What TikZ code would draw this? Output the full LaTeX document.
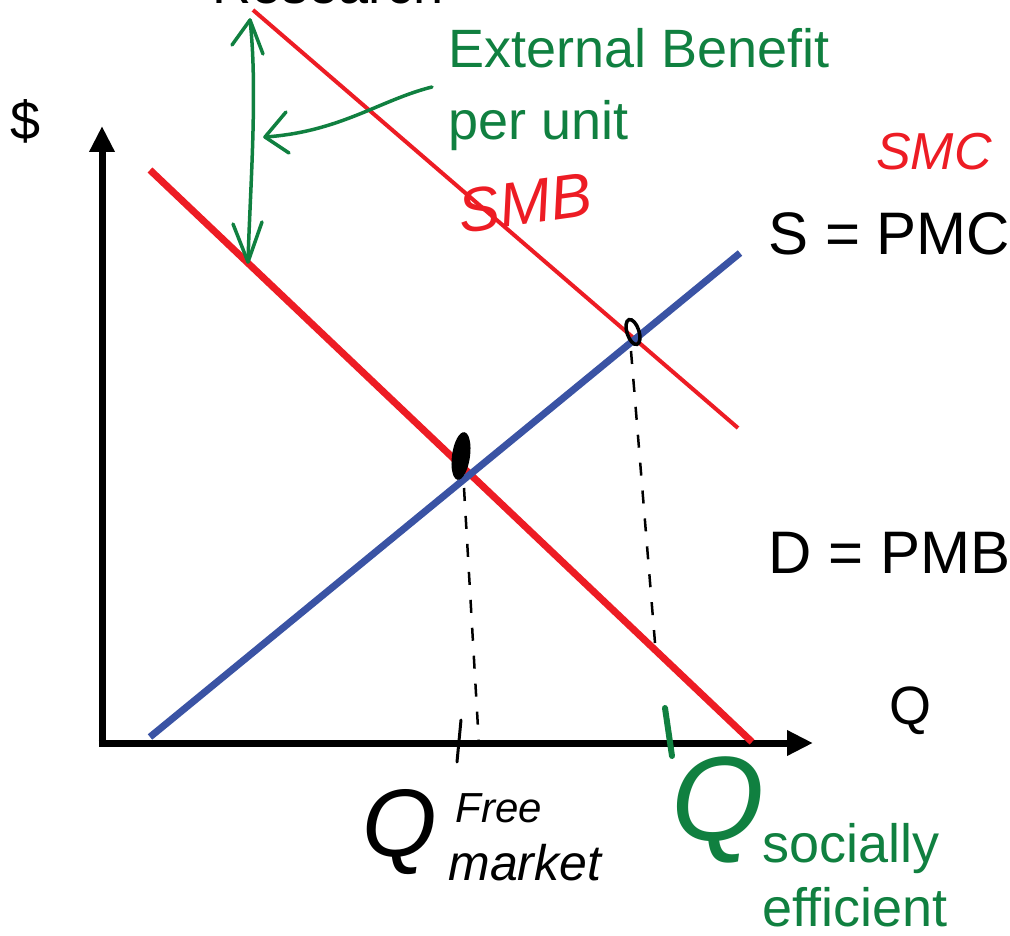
\documentclass[tikz,border=0pt]{standalone}
\usepackage{fontspec}
\setmainfont{Liberation Sans}
\usetikzlibrary{arrows.meta}
\definecolor{curvered}{RGB}{237,28,36}
\definecolor{supplyblue}{RGB}{58,83,164}
\definecolor{notegreen}{RGB}{16,128,64}
\tikzset{every picture/.style={line width=0.75pt}}

\begin{document}
\begin{tikzpicture}[x=1pt,y=-1pt,
    axis/.style={line width=7pt, -{Triangle[length=26pt,width=24pt]}},
    txt/.style={font=\fontsize{54}{60}\selectfont, inner sep=0pt},
    big/.style={font=\fontsize{60}{66}\selectfont, inner sep=0pt},
    hand/.style={inner sep=0pt, font=\itshape},
    guide/.style={line width=2.5pt, dash pattern={on 13pt off 15pt}},
    barb/.style={notegreen, line width=3.5pt, line cap=round, line join=round}]
    \useasboundingbox (0,0) rectangle (1010,936);
    \clip (0,0) rectangle (1010,936);
    % points of the diagram
    \coordinate (O) at (102,743);
    \coordinate (ytip) at (102,126);
    \coordinate (xtip) at (813,743);
    \coordinate (pmbA) at (150,170);
    \coordinate (pmbB) at (752,742);
    \coordinate (pmcA) at (150,737);
    \coordinate (pmcB) at (740,253);
    \coordinate (smbA) at (253,10);
    \coordinate (smbB) at (738,428);
    \coordinate (mkt) at (464,472);
    \coordinate (soc) at (631,337);
    \coordinate (mktQ) at (479,745);
    \coordinate (socQ) at (656,655);
    \coordinate (ebTop) at (250,20);
    \coordinate (ebBot) at (248,262);
    \coordinate (ebTail) at (432,87);
    \coordinate (ebHead) at (265,137);
    % axes
    \draw[axis] (102,746.5) -- (ytip);
    \draw[axis] (98.5,743) -- (xtip);
    \node[txt, anchor=center] (dollar) at (26,121) {\$};
    \node[txt, anchor=base west] (qlab) at (889,724) {Q};
    % curves
    \draw[curvered, line width=4pt] (smbA) -- (smbB);
    \draw[curvered, line width=7pt] (pmbA) -- (pmbB);
    \draw[supplyblue, line width=7pt] (pmcA) -- (pmcB);
    \node[big, anchor=base west] (pmc) at (768,255) {S = PMC};
    \node[big, anchor=base west] (pmb) at (768,573) {D = PMB};
    \node[txt, anchor=base west] (research) at (212,4) {Research};
    % equilibrium marks
    \fill[rotate around={-8:(461,456)}] (461,456) ellipse (9 and 24);
    \draw[line width=3.5pt, rotate around={18:(633,332)}] (633,332) ellipse (6 and 13);
    \draw[guide] ([yshift=-16pt]mkt) -- (mktQ);
    \draw[guide] ([yshift=-14pt]soc) -- (socQ);
    \draw[line width=3pt, line cap=round] (461,720) -- (457,762);
    \draw[notegreen, line width=6pt, line cap=round] (665,708) -- (672,756);
    % external benefit
    \draw[barb] (ebTop) .. controls (258,90) and (250,190) .. (ebBot);
    \draw[barb] (232,45) -- (ebTop) -- (263,54);
    \draw[barb] (233,224) -- (ebBot) -- (262,222);
    \draw[barb] (ebTail) .. controls (380,100) and (340,132) .. (ebHead);
    \draw[barb] (286,112) -- (ebHead) -- (289,153);
    \node[txt, notegreen, anchor=base west] (eb1) at (448,68) {External Benefit};
    \node[txt, notegreen, anchor=base west] (eb2) at (448,140) {per unit};
    % handwritten labels
    \node[hand, curvered, rotate=8, font=\fontsize{62}{62}\selectfont\itshape] (smb) at (525,203) {SMB};
    \node[hand, curvered, font=\fontsize{52}{52}\selectfont\itshape] (smc) at (934,152) {SMC};
    \node[hand, font=\fontsize{96}{96}\selectfont\itshape] (qfree) at (400,832) {Q};
    \node[hand, anchor=base west, font=\fontsize{42}{42}\selectfont\itshape] (free) at (455,822) {Free};
    \node[hand, anchor=base west, font=\fontsize{50}{50}\selectfont\itshape] (market) at (448,880) {market};
    \node[hand, notegreen, font=\fontsize{120}{120}\selectfont\itshape] (qsoc) at (718,810) {Q};
    \node[txt, notegreen, anchor=base west] (soc1) at (762,862) {socially};
    \node[txt, notegreen, anchor=base west] (soc2) at (762,926) {efficient};
\end{tikzpicture}
\end{document}
